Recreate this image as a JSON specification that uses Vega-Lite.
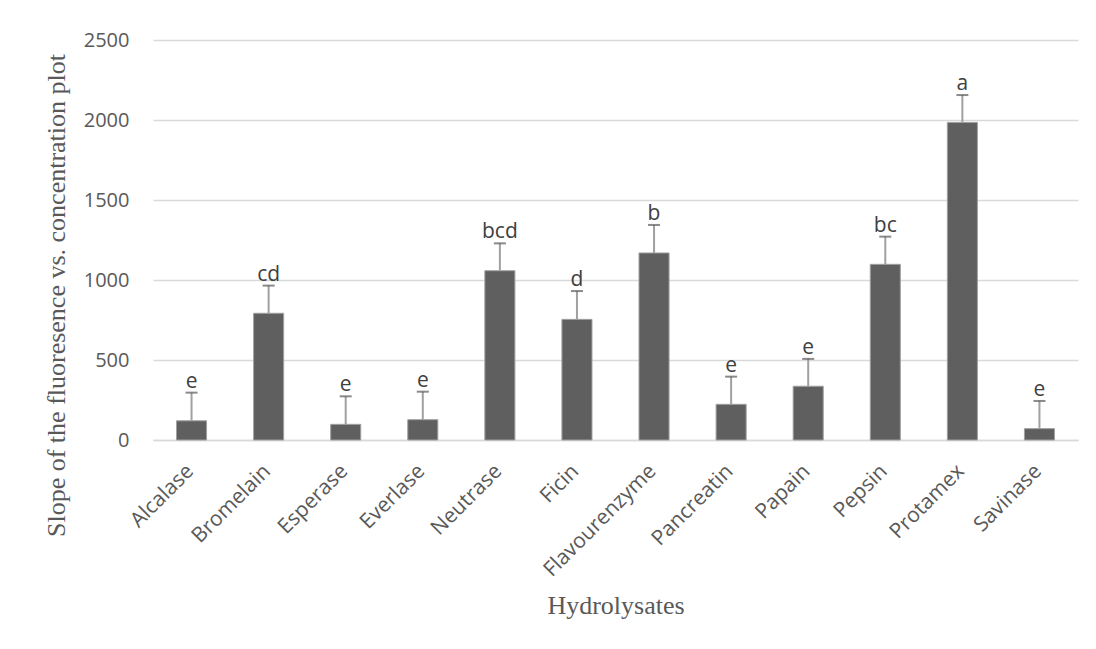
{
  "$schema": "https://vega.github.io/schema/vega-lite/v6.json",
  "width": 925,
  "height": 400,
  "autosize": {"type": "none"},
  "padding": {"left": 153, "top": 40, "right": 18, "bottom": 209},
  "background": "white",
  "config": {"view": {"stroke": null}, "font": "Open Sans"},
  "data": {
    "values": [
      {"name": "Alcalase", "value": 120, "upper": 296, "letter": "e"},
      {"name": "Bromelain", "value": 792, "upper": 965, "letter": "cd"},
      {"name": "Esperase", "value": 98, "upper": 273, "letter": "e"},
      {"name": "Everlase", "value": 127, "upper": 302, "letter": "e"},
      {"name": "Neutrase", "value": 1058, "upper": 1229, "letter": "bcd"},
      {"name": "Ficin", "value": 754, "upper": 931, "letter": "d"},
      {"name": "Flavourenzyme", "value": 1169, "upper": 1344, "letter": "b"},
      {"name": "Pancreatin", "value": 223, "upper": 396, "letter": "e"},
      {"name": "Papain", "value": 336, "upper": 507, "letter": "e"},
      {"name": "Pepsin", "value": 1098, "upper": 1271, "letter": "bc"},
      {"name": "Protamex", "value": 1985, "upper": 2156, "letter": "a"},
      {"name": "Savinase", "value": 71, "upper": 244, "letter": "e"}
    ]
  },
  "encoding": {
    "x": {
      "field": "name",
      "type": "nominal",
      "sort": null,
      "scale": {"paddingInner": 0.61, "paddingOuter": 0.305},
      "axis": {
        "title": "Hydrolysates",
        "titleFont": "Liberation Serif",
        "titleFontSize": 26,
        "titleFontWeight": "normal",
        "titleColor": "#595959",
        "titleY": 173,
        "titleBaseline": "alphabetic",
        "labelAngle": -45,
        "labelFontSize": 21,
        "labelColor": "#595959",
        "labelPadding": 20,
        "labelOffset": -9,
        "domainColor": "#d9d9d9",
        "domainWidth": 1.5,
        "ticks": false
      }
    }
  },
  "layer": [
    {
      "mark": {"type": "bar", "color": "#5f5f5f", "stroke": "#a0a0a0", "strokeWidth": 1},
      "encoding": {
        "y": {
          "field": "value",
          "type": "quantitative",
          "title": "Slope of the fluoresence vs. concentration plot",
          "scale": {"domain": [0, 2500], "nice": false},
          "axis": {
            "values": [0, 500, 1000, 1500, 2000, 2500],
            "format": "d",
            "domain": false,
            "ticks": false,
            "grid": true,
            "gridColor": "#d9d9d9",
            "gridWidth": 1.5,
            "labelFontSize": 20,
            "labelColor": "#595959",
            "labelPadding": 24,
            "titleFont": "Liberation Serif",
            "titleFontSize": 26,
            "titleFontWeight": "normal",
            "titleColor": "#595959",
            "titleX": -97,
            "titleY": 255,
            "titleBaseline": "middle"
          }
        }
      }
    },
    {
      "mark": {"type": "rule", "color": "#a0a0a0", "strokeWidth": 2},
      "encoding": {
        "y": {"field": "value", "type": "quantitative", "title": "Slope of the fluoresence vs. concentration plot"},
        "y2": {"field": "upper"}
      }
    },
    {
      "mark": {"type": "tick", "color": "#595959", "thickness": 2, "size": 12},
      "encoding": {
        "y": {"field": "upper", "type": "quantitative", "title": "Slope of the fluoresence vs. concentration plot"}
      }
    },
    {
      "mark": {"type": "text", "fontSize": 21, "color": "#404040", "baseline": "alphabetic", "dy": -5},
      "encoding": {
        "y": {"field": "upper", "type": "quantitative", "title": "Slope of the fluoresence vs. concentration plot"},
        "text": {"field": "letter"}
      }
    }
  ]
}
